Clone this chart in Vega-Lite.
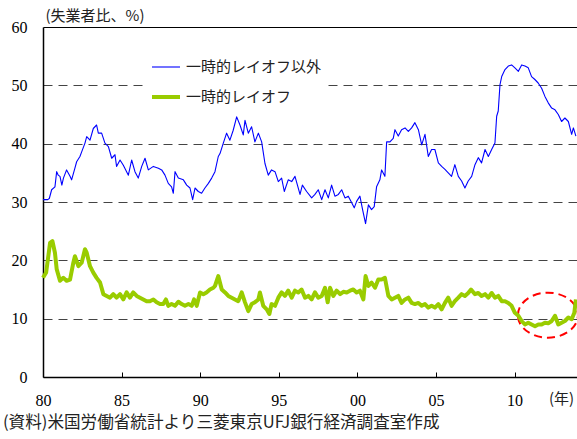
{
"$schema": "https://vega.github.io/schema/vega-lite/v6.json",
"width": 534, "height": 350,
"autosize": {"type": "none"},
"padding": {"left": 43, "top": 27, "right": 0, "bottom": 62},
"background": "white",
"config": {
  "view": {"stroke": null},
  "legend": {"orient": "none", "legendX": 104, "legendY": 22, "fillColor": "white", "padding": 3, "symbolType": "stroke", "symbolSize": 784, "labelFont": "Noto Sans CJK JP", "labelFontSize": 15, "labelColor": "#222", "rowPadding": 6, "labelOffset": 4}
},
"title": {"text": "(資料)米国労働省統計より三菱東京UFJ銀行経済調査室作成", "orient": "bottom", "anchor": "start", "frame": "group", "dx": -40, "offset": 7, "font": "Noto Sans CJK JP", "fontSize": 16.6, "fontWeight": "normal", "color": "#222"},
"datasets": {
  "ellipse": [{"t": 2012.12, "v": 10.6}],
  "main": [
{"s":"一時的レイオフ以外","t":1980.0,"v":30.4},{"s":"一時的レイオフ以外","t":1980.3,"v":30.4},{"s":"一時的レイオフ以外","t":1980.4,"v":30.6},{"s":"一時的レイオフ以外","t":1980.55,"v":32.1},{"s":"一時的レイオフ以外","t":1980.76,"v":32.6},{"s":"一時的レイオフ以外","t":1980.87,"v":35.2},{"s":"一時的レイオフ以外","t":1980.97,"v":34.6},{"s":"一時的レイオフ以外","t":1981.08,"v":34.4},{"s":"一時的レイオフ以外","t":1981.2,"v":32.9},{"s":"一時的レイオフ以外","t":1981.3,"v":34.1},{"s":"一時的レイオフ以外","t":1981.5,"v":35.5},{"s":"一時的レイオフ以外","t":1981.72,"v":34.4},{"s":"一時的レイオフ以外","t":1981.82,"v":33.8},{"s":"一時的レイオフ以外","t":1982.03,"v":35.8},{"s":"一時的レイオフ以外","t":1982.14,"v":36.9},{"s":"一時的レイオフ以外","t":1982.35,"v":37.8},{"s":"一時的レイオフ以外","t":1982.46,"v":38.6},{"s":"一時的レイオフ以外","t":1982.67,"v":40.1},{"s":"一時的レイオフ以外","t":1982.78,"v":41.2},{"s":"一時的レイオフ以外","t":1982.99,"v":40.6},{"s":"一時的レイオフ以外","t":1983.2,"v":42.6},{"s":"一時的レイオフ以外","t":1983.41,"v":43.2},{"s":"一時的レイオフ以外","t":1983.52,"v":41.8},{"s":"一時的レイオフ以外","t":1983.73,"v":41.8},{"s":"一時的レイオフ以外","t":1983.94,"v":40.1},{"s":"一時的レイオフ以外","t":1984.16,"v":39.5},{"s":"一時的レイオフ以外","t":1984.37,"v":37.5},{"s":"一時的レイオフ以外","t":1984.58,"v":38.1},{"s":"一時的レイオフ以外","t":1984.68,"v":36.1},{"s":"一時的レイオフ以外","t":1984.9,"v":37.2},{"s":"一時的レイオフ以外","t":1985.11,"v":36.3},{"s":"一時的レイオフ以外","t":1985.43,"v":34.6},{"s":"一時的レイオフ以外","t":1985.64,"v":37.2},{"s":"一時的レイオフ以外","t":1985.85,"v":35.2},{"s":"一時的レイオフ以外","t":1986.06,"v":34.1},{"s":"一時的レイオフ以外","t":1986.28,"v":36.1},{"s":"一時的レイオフ以外","t":1986.49,"v":37.5},{"s":"一時的レイオフ以外","t":1986.7,"v":35.5},{"s":"一時的レイオフ以外","t":1987.02,"v":36.1},{"s":"一時的レイオフ以外","t":1987.34,"v":35.8},{"s":"一時的レイオフ以外","t":1987.55,"v":35.5},{"s":"一時的レイオフ以外","t":1987.76,"v":34.6},{"s":"一時的レイオフ以外","t":1987.97,"v":33.2},{"s":"一時的レイオフ以外","t":1988.18,"v":32.6},{"s":"一時的レイオフ以外","t":1988.29,"v":31.5},{"s":"一時的レイオフ以外","t":1988.4,"v":35.2},{"s":"一時的レイオフ以外","t":1988.61,"v":34.1},{"s":"一時的レイオフ以外","t":1988.93,"v":33.8},{"s":"一時的レイオフ以外","t":1989.14,"v":32.9},{"s":"一時的レイオフ以外","t":1989.35,"v":32.4},{"s":"一時的レイオフ以外","t":1989.52,"v":30.4},{"s":"一時的レイオフ以外","t":1989.67,"v":32.4},{"s":"一時的レイオフ以外","t":1989.88,"v":31.8},{"s":"一時的レイオフ以外","t":1990.09,"v":31.5},{"s":"一時的レイオフ以外","t":1990.3,"v":32.4},{"s":"一時的レイオフ以外","t":1990.52,"v":33.2},{"s":"一時的レイオフ以外","t":1990.73,"v":34.1},{"s":"一時的レイオフ以外","t":1990.94,"v":35.2},{"s":"一時的レイオフ以外","t":1991.15,"v":37.8},{"s":"一時的レイオフ以外","t":1991.26,"v":38.3},{"s":"一時的レイオフ以外","t":1991.47,"v":40.1},{"s":"一時的レイオフ以外","t":1991.68,"v":41.8},{"s":"一時的レイオフ以外","t":1991.89,"v":40.6},{"s":"一時的レイオフ以外","t":1992.1,"v":42.3},{"s":"一時的レイオフ以外","t":1992.32,"v":44.6},{"s":"一時的レイオフ以外","t":1992.53,"v":43.2},{"s":"一時的レイオフ以外","t":1992.74,"v":41.5},{"s":"一時的レイオフ以外","t":1992.85,"v":44.0},{"s":"一時的レイオフ以外","t":1993.06,"v":41.8},{"s":"一時的レイオフ以外","t":1993.27,"v":42.9},{"s":"一時的レイオフ以外","t":1993.48,"v":40.3},{"s":"一時的レイオフ以外","t":1993.7,"v":41.8},{"s":"一時的レイオフ以外","t":1993.91,"v":40.3},{"s":"一時的レイオフ以外","t":1994.12,"v":36.6},{"s":"一時的レイオフ以外","t":1994.33,"v":34.6},{"s":"一時的レイオフ以外","t":1994.54,"v":35.5},{"s":"一時的レイオフ以外","t":1994.76,"v":35.2},{"s":"一時的レイオフ以外","t":1994.97,"v":33.5},{"s":"一時的レイオフ以外","t":1995.18,"v":34.1},{"s":"一時的レイオフ以外","t":1995.35,"v":31.8},{"s":"一時的レイオフ以外","t":1995.6,"v":33.8},{"s":"一時的レイオフ以外","t":1995.82,"v":33.5},{"s":"一時的レイオフ以外","t":1996.03,"v":34.4},{"s":"一時的レイオフ以外","t":1996.35,"v":31.3},{"s":"一時的レイオフ以外","t":1996.5,"v":32.9},{"s":"一時的レイオフ以外","t":1996.77,"v":31.8},{"s":"一時的レイオフ以外","t":1997.09,"v":30.7},{"s":"一時的レイオフ以外","t":1997.3,"v":31.3},{"s":"一時的レイオフ以外","t":1997.51,"v":32.1},{"s":"一時的レイオフ以外","t":1997.73,"v":30.4},{"s":"一時的レイオフ以外","t":1997.94,"v":32.1},{"s":"一時的レイオフ以外","t":1998.15,"v":30.7},{"s":"一時的レイオフ以外","t":1998.36,"v":32.9},{"s":"一時的レイオフ以外","t":1998.57,"v":31.0},{"s":"一時的レイオフ以外","t":1998.79,"v":31.3},{"s":"一時的レイオフ以外","t":1999.0,"v":32.1},{"s":"一時的レイオフ以外","t":1999.21,"v":30.7},{"s":"一時的レイオフ以外","t":1999.42,"v":31.0},{"s":"一時的レイオフ以外","t":1999.63,"v":29.9},{"s":"一時的レイオフ以外","t":1999.8,"v":29.0},{"s":"一時的レイオフ以外","t":1999.95,"v":30.1},{"s":"一時的レイオフ以外","t":2000.16,"v":31.0},{"s":"一時的レイオフ以外","t":2000.33,"v":28.7},{"s":"一時的レイオフ以外","t":2000.52,"v":26.3},{"s":"一時的レイオフ以外","t":2000.7,"v":29.5},{"s":"一時的レイオフ以外","t":2000.9,"v":28.7},{"s":"一時的レイオフ以外","t":2001.07,"v":29.2},{"s":"一時的レイオフ以外","t":2001.22,"v":32.6},{"s":"一時的レイオフ以外","t":2001.43,"v":33.8},{"s":"一時的レイオフ以外","t":2001.54,"v":35.5},{"s":"一時的レイオフ以外","t":2001.75,"v":34.4},{"s":"一時的レイオフ以外","t":2001.86,"v":40.3},{"s":"一時的レイオフ以外","t":2002.07,"v":40.3},{"s":"一時的レイオフ以外","t":2002.28,"v":40.9},{"s":"一時的レイオフ以外","t":2002.39,"v":42.4},{"s":"一時的レイオフ以外","t":2002.6,"v":41.3},{"s":"一時的レイオフ以外","t":2002.81,"v":42.4},{"s":"一時的レイオフ以外","t":2003.03,"v":42.7},{"s":"一時的レイオフ以外","t":2003.24,"v":42.1},{"s":"一時的レイオフ以外","t":2003.45,"v":42.7},{"s":"一時的レイオフ以外","t":2003.66,"v":43.6},{"s":"一時的レイオフ以外","t":2003.88,"v":42.4},{"s":"一時的レイオフ以外","t":2004.09,"v":39.8},{"s":"一時的レイオフ以外","t":2004.3,"v":41.6},{"s":"一時的レイオフ以外","t":2004.51,"v":37.8},{"s":"一時的レイオフ以外","t":2004.72,"v":39.0},{"s":"一時的レイオフ以外","t":2004.93,"v":39.0},{"s":"一時的レイオフ以外","t":2005.15,"v":36.7},{"s":"一時的レイオフ以外","t":2005.36,"v":36.1},{"s":"一時的レイオフ以外","t":2005.57,"v":35.6},{"s":"一時的レイオフ以外","t":2005.78,"v":35.0},{"s":"一時的レイオフ以外","t":2005.99,"v":34.4},{"s":"一時的レイオフ以外","t":2006.2,"v":36.4},{"s":"一時的レイオフ以外","t":2006.42,"v":34.4},{"s":"一時的レイオフ以外","t":2006.63,"v":33.6},{"s":"一時的レイオフ以外","t":2006.84,"v":32.4},{"s":"一時的レイオフ以外","t":2007.05,"v":33.6},{"s":"一時的レイオフ以外","t":2007.27,"v":34.4},{"s":"一時的レイオフ以外","t":2007.48,"v":36.4},{"s":"一時的レイオフ以外","t":2007.69,"v":37.6},{"s":"一時的レイオフ以外","t":2007.9,"v":36.7},{"s":"一時的レイオフ以外","t":2008.12,"v":39.0},{"s":"一時的レイオフ以外","t":2008.33,"v":37.8},{"s":"一時的レイオフ以外","t":2008.54,"v":39.0},{"s":"一時的レイオフ以外","t":2008.75,"v":40.1},{"s":"一時的レイオフ以外","t":2008.86,"v":44.7},{"s":"一時的レイオフ以外","t":2008.96,"v":45.6},{"s":"一時的レイオフ以外","t":2009.07,"v":50.1},{"s":"一時的レイオフ以外","t":2009.18,"v":51.5},{"s":"一時的レイオフ以外","t":2009.39,"v":52.7},{"s":"一時的レイオフ以外","t":2009.6,"v":53.3},{"s":"一時的レイオフ以外","t":2009.81,"v":53.5},{"s":"一時的レイオフ以外","t":2010.02,"v":53.0},{"s":"一時的レイオフ以外","t":2010.24,"v":52.4},{"s":"一時的レイオフ以外","t":2010.45,"v":53.5},{"s":"一時的レイオフ以外","t":2010.66,"v":53.3},{"s":"一時的レイオフ以外","t":2010.87,"v":53.0},{"s":"一時的レイオフ以外","t":2011.08,"v":51.5},{"s":"一時的レイオフ以外","t":2011.29,"v":51.0},{"s":"一時的レイオフ以外","t":2011.5,"v":50.4},{"s":"一時的レイオフ以外","t":2011.72,"v":49.5},{"s":"一時的レイオフ以外","t":2011.93,"v":48.1},{"s":"一時的レイオフ以外","t":2012.14,"v":47.0},{"s":"一時的レイオフ以外","t":2012.36,"v":46.1},{"s":"一時的レイオフ以外","t":2012.57,"v":45.8},{"s":"一時的レイオフ以外","t":2012.78,"v":45.0},{"s":"一時的レイオフ以外","t":2012.99,"v":43.8},{"s":"一時的レイオフ以外","t":2013.2,"v":44.4},{"s":"一時的レイオフ以外","t":2013.42,"v":43.8},{"s":"一時的レイオフ以外","t":2013.63,"v":41.6},{"s":"一時的レイオフ以外","t":2013.74,"v":42.7},{"s":"一時的レイオフ以外","t":2013.9,"v":41.3},
{"s":"一時的レイオフ","t":1980.0,"v":17.0},{"s":"一時的レイオフ","t":1980.2,"v":17.9},{"s":"一時的レイオフ","t":1980.45,"v":23.0},{"s":"一時的レイオフ","t":1980.6,"v":23.3},{"s":"一時的レイオフ","t":1980.76,"v":21.3},{"s":"一時的レイオフ","t":1980.87,"v":18.5},{"s":"一時的レイオフ","t":1981.08,"v":16.5},{"s":"一時的レイオフ","t":1981.29,"v":17.0},{"s":"一時的レイオフ","t":1981.5,"v":16.5},{"s":"一時的レイオフ","t":1981.72,"v":16.7},{"s":"一時的レイオフ","t":1981.93,"v":19.6},{"s":"一時的レイオフ","t":1982.03,"v":20.7},{"s":"一時的レイオフ","t":1982.25,"v":19.0},{"s":"一時的レイオフ","t":1982.46,"v":19.6},{"s":"一時的レイオフ","t":1982.67,"v":21.9},{"s":"一時的レイオフ","t":1982.78,"v":21.3},{"s":"一時的レイオフ","t":1982.99,"v":19.0},{"s":"一時的レイオフ","t":1983.2,"v":17.9},{"s":"一時的レイオフ","t":1983.41,"v":17.0},{"s":"一時的レイオフ","t":1983.63,"v":16.2},{"s":"一時的レイオフ","t":1983.84,"v":14.2},{"s":"一時的レイオフ","t":1984.05,"v":13.9},{"s":"一時的レイオフ","t":1984.26,"v":13.6},{"s":"一時的レイオフ","t":1984.47,"v":14.2},{"s":"一時的レイオフ","t":1984.68,"v":13.6},{"s":"一時的レイオフ","t":1984.9,"v":14.2},{"s":"一時的レイオフ","t":1985.11,"v":13.3},{"s":"一時的レイオフ","t":1985.32,"v":14.5},{"s":"一時的レイオフ","t":1985.53,"v":13.6},{"s":"一時的レイオフ","t":1985.74,"v":14.5},{"s":"一時的レイオフ","t":1985.96,"v":13.9},{"s":"一時的レイオフ","t":1986.17,"v":13.6},{"s":"一時的レイオフ","t":1986.38,"v":13.3},{"s":"一時的レイオフ","t":1986.59,"v":13.0},{"s":"一時的レイオフ","t":1986.8,"v":13.0},{"s":"一時的レイオフ","t":1987.02,"v":13.3},{"s":"一時的レイオフ","t":1987.23,"v":12.8},{"s":"一時的レイオフ","t":1987.44,"v":12.5},{"s":"一時的レイオフ","t":1987.65,"v":12.5},{"s":"一時的レイオフ","t":1987.82,"v":13.3},{"s":"一時的レイオフ","t":1987.97,"v":12.2},{"s":"一時的レイオフ","t":1988.18,"v":12.5},{"s":"一時的レイオフ","t":1988.4,"v":12.2},{"s":"一時的レイオフ","t":1988.61,"v":12.9},{"s":"一時的レイオフ","t":1988.82,"v":12.5},{"s":"一時的レイオフ","t":1989.03,"v":12.2},{"s":"一時的レイオフ","t":1989.25,"v":12.5},{"s":"一時的レイオフ","t":1989.46,"v":12.2},{"s":"一時的レイオフ","t":1989.61,"v":13.3},{"s":"一時的レイオフ","t":1989.78,"v":12.2},{"s":"一時的レイオフ","t":1989.99,"v":14.5},{"s":"一時的レイオフ","t":1990.2,"v":14.2},{"s":"一時的レイオフ","t":1990.4,"v":14.5},{"s":"一時的レイオフ","t":1990.62,"v":15.0},{"s":"一時的レイオフ","t":1990.84,"v":15.3},{"s":"一時的レイオフ","t":1990.94,"v":15.6},{"s":"一時的レイオフ","t":1991.15,"v":17.3},{"s":"一時的レイオフ","t":1991.37,"v":15.0},{"s":"一時的レイオフ","t":1991.58,"v":14.5},{"s":"一時的レイオフ","t":1991.79,"v":13.9},{"s":"一時的レイオフ","t":1992.0,"v":13.6},{"s":"一時的レイオフ","t":1992.21,"v":13.3},{"s":"一時的レイオフ","t":1992.42,"v":13.0},{"s":"一時的レイオフ","t":1992.64,"v":14.5},{"s":"一時的レイオフ","t":1992.85,"v":12.8},{"s":"一時的レイオフ","t":1993.06,"v":11.3},{"s":"一時的レイオフ","t":1993.27,"v":12.5},{"s":"一時的レイオフ","t":1993.48,"v":12.8},{"s":"一時的レイオフ","t":1993.7,"v":13.3},{"s":"一時的レイオフ","t":1993.8,"v":14.5},{"s":"一時的レイオフ","t":1994.01,"v":12.2},{"s":"一時的レイオフ","t":1994.23,"v":11.6},{"s":"一時的レイオフ","t":1994.4,"v":10.8},{"s":"一時的レイオフ","t":1994.54,"v":12.5},{"s":"一時的レイオフ","t":1994.76,"v":12.2},{"s":"一時的レイオフ","t":1994.97,"v":13.6},{"s":"一時的レイオフ","t":1995.18,"v":14.5},{"s":"一時的レイオフ","t":1995.39,"v":13.9},{"s":"一時的レイオフ","t":1995.6,"v":14.8},{"s":"一時的レイオフ","t":1995.82,"v":13.6},{"s":"一時的レイオフ","t":1996.03,"v":14.8},{"s":"一時的レイオフ","t":1996.24,"v":14.5},{"s":"一時的レイオフ","t":1996.45,"v":15.0},{"s":"一時的レイオフ","t":1996.67,"v":13.6},{"s":"一時的レイオフ","t":1996.88,"v":13.9},{"s":"一時的レイオフ","t":1997.09,"v":13.3},{"s":"一時的レイオフ","t":1997.3,"v":14.5},{"s":"一時的レイオフ","t":1997.51,"v":13.6},{"s":"一時的レイオフ","t":1997.73,"v":13.9},{"s":"一時的レイオフ","t":1997.94,"v":15.3},{"s":"一時的レイオフ","t":1998.11,"v":12.8},{"s":"一時的レイオフ","t":1998.26,"v":15.3},{"s":"一時的レイオフ","t":1998.47,"v":13.9},{"s":"一時的レイオフ","t":1998.68,"v":14.8},{"s":"一時的レイオフ","t":1998.9,"v":14.2},{"s":"一時的レイオフ","t":1999.11,"v":14.6},{"s":"一時的レイオフ","t":1999.32,"v":14.5},{"s":"一時的レイオフ","t":1999.53,"v":14.8},{"s":"一時的レイオフ","t":1999.74,"v":15.0},{"s":"一時的レイオフ","t":1999.95,"v":14.5},{"s":"一時的レイオフ","t":2000.16,"v":14.8},{"s":"一時的レイオフ","t":2000.38,"v":13.3},{"s":"一時的レイオフ","t":2000.52,"v":17.3},{"s":"一時的レイオフ","t":2000.7,"v":15.6},{"s":"一時的レイオフ","t":2000.9,"v":16.2},{"s":"一時的レイオフ","t":2001.12,"v":15.3},{"s":"一時的レイオフ","t":2001.33,"v":16.7},{"s":"一時的レイオフ","t":2001.54,"v":16.7},{"s":"一時的レイオフ","t":2001.75,"v":17.0},{"s":"一時的レイオフ","t":2001.97,"v":13.9},{"s":"一時的レイオフ","t":2002.18,"v":13.3},{"s":"一時的レイオフ","t":2002.39,"v":13.6},{"s":"一時的レイオフ","t":2002.6,"v":13.9},{"s":"一時的レイオフ","t":2002.81,"v":12.7},{"s":"一時的レイオフ","t":2003.03,"v":13.3},{"s":"一時的レイオフ","t":2003.24,"v":13.6},{"s":"一時的レイオフ","t":2003.45,"v":12.7},{"s":"一時的レイオフ","t":2003.66,"v":12.5},{"s":"一時的レイオフ","t":2003.88,"v":12.7},{"s":"一時的レイオフ","t":2004.09,"v":12.2},{"s":"一時的レイオフ","t":2004.3,"v":12.5},{"s":"一時的レイオフ","t":2004.51,"v":11.9},{"s":"一時的レイオフ","t":2004.72,"v":12.2},{"s":"一時的レイオフ","t":2004.93,"v":11.9},{"s":"一時的レイオフ","t":2005.15,"v":12.5},{"s":"一時的レイオフ","t":2005.36,"v":11.6},{"s":"一時的レイオフ","t":2005.57,"v":12.7},{"s":"一時的レイオフ","t":2005.78,"v":13.6},{"s":"一時的レイオフ","t":2005.99,"v":12.2},{"s":"一時的レイオフ","t":2006.2,"v":13.0},{"s":"一時的レイオフ","t":2006.42,"v":13.6},{"s":"一時的レイオフ","t":2006.63,"v":14.2},{"s":"一時的レイオフ","t":2006.84,"v":13.9},{"s":"一時的レイオフ","t":2007.05,"v":14.4},{"s":"一時的レイオフ","t":2007.23,"v":15.0},{"s":"一時的レイオフ","t":2007.48,"v":14.2},{"s":"一時的レイオフ","t":2007.69,"v":14.4},{"s":"一時的レイオフ","t":2007.9,"v":13.9},{"s":"一時的レイオフ","t":2008.12,"v":14.2},{"s":"一時的レイオフ","t":2008.33,"v":13.6},{"s":"一時的レイオフ","t":2008.54,"v":14.4},{"s":"一時的レイオフ","t":2008.75,"v":13.6},{"s":"一時的レイオフ","t":2008.96,"v":13.9},{"s":"一時的レイオフ","t":2009.18,"v":13.0},{"s":"一時的レイオフ","t":2009.39,"v":13.0},{"s":"一時的レイオフ","t":2009.6,"v":12.7},{"s":"一時的レイオフ","t":2009.81,"v":12.2},{"s":"一時的レイオフ","t":2010.02,"v":11.0},{"s":"一時的レイオフ","t":2010.24,"v":10.5},{"s":"一時的レイオフ","t":2010.45,"v":9.6},{"s":"一時的レイオフ","t":2010.66,"v":9.0},{"s":"一時的レイオフ","t":2010.87,"v":9.3},{"s":"一時的レイオフ","t":2011.08,"v":9.0},{"s":"一時的レイオフ","t":2011.3,"v":8.7},{"s":"一時的レイオフ","t":2011.51,"v":9.0},{"s":"一時的レイオフ","t":2011.72,"v":9.0},{"s":"一時的レイオフ","t":2011.93,"v":9.3},{"s":"一時的レイオフ","t":2012.14,"v":9.2},{"s":"一時的レイオフ","t":2012.36,"v":9.6},{"s":"一時的レイオフ","t":2012.57,"v":10.5},{"s":"一時的レイオフ","t":2012.78,"v":9.0},{"s":"一時的レイオフ","t":2012.99,"v":9.3},{"s":"一時的レイオフ","t":2013.2,"v":9.6},{"s":"一時的レイオフ","t":2013.42,"v":10.2},{"s":"一時的レイオフ","t":2013.63,"v":9.9},{"s":"一時的レイオフ","t":2013.8,"v":11.0},{"s":"一時的レイオフ","t":2013.9,"v":13.3}
  ]
},
"encoding": {
  "x": {"field": "t", "type": "quantitative",
    "scale": {"domain": [1980, 2013.97], "nice": false, "zero": false},
    "axis": {"values": [1980, 1985, 1990, 1995, 2000, 2005, 2010], "format": "d", "labelExpr": "substring(datum.label, 2)", "labelFlush": false, "labelOverlap": false, "labelFont": "Liberation Serif", "labelFontSize": 16, "labelColor": "#000", "labelPadding": 20, "ticks": true, "tickSize": -5, "tickColor": "#000", "tickWidth": 1, "domainColor": "#000", "domainWidth": 1.5, "grid": false,
      "title": "(年)", "titleX": 518, "titleY": 21, "titleAlign": "center", "titleBaseline": "middle", "titleFont": "Noto Sans CJK JP", "titleFontSize": 15, "titleFontWeight": "normal", "titleColor": "#222"}},
  "y": {"field": "v", "type": "quantitative",
    "scale": {"domain": [0, 60], "nice": false},
    "axis": {"values": [0, 10, 20, 30, 40, 50, 60], "labelFont": "Liberation Serif", "labelFontSize": 16, "labelColor": "#000", "labelPadding": 16, "ticks": false, "domainColor": "#000", "domainWidth": 1.5,
      "grid": true,
      "gridColor": {"condition": {"test": "datum.value == 60", "value": "#000"}, "value": "#444"},
      "gridDash": {"condition": {"test": "datum.value == 60", "value": []}, "value": [9, 6]},
      "gridOpacity": {"condition": {"test": "datum.value == 0", "value": 0}, "value": 1},
      "title": "(失業者比、%)", "titleAngle": 0, "titleX": 2, "titleY": -12, "titleAlign": "left", "titleBaseline": "middle", "titleFont": "Noto Sans CJK JP", "titleFontSize": 15, "titleFontWeight": "normal", "titleColor": "#222"}}
},
"layer": [
  {"data": {"name": "ellipse"},
   "mark": {"type": "point", "shape": "M-1,0A1,0.75,0,1,1,1,0A1,0.75,0,1,1,-1,0Z", "size": 3600, "filled": false, "stroke": "#FF0000", "strokeWidth": 2, "strokeDash": [8, 5], "opacity": 1}},
  {"data": {"name": "main"},
   "mark": {"type": "line", "strokeJoin": "round"},
   "encoding": {
     "color": {"field": "s", "type": "nominal", "scale": {"domain": ["一時的レイオフ以外", "一時的レイオフ"], "range": ["#0000FF", "#99CC00"]}, "legend": {"title": null}},
     "strokeWidth": {"field": "s", "type": "ordinal", "scale": {"domain": ["一時的レイオフ以外", "一時的レイオフ"], "range": [1.1, 4]}, "legend": {"title": null}}
   }}
]
}
